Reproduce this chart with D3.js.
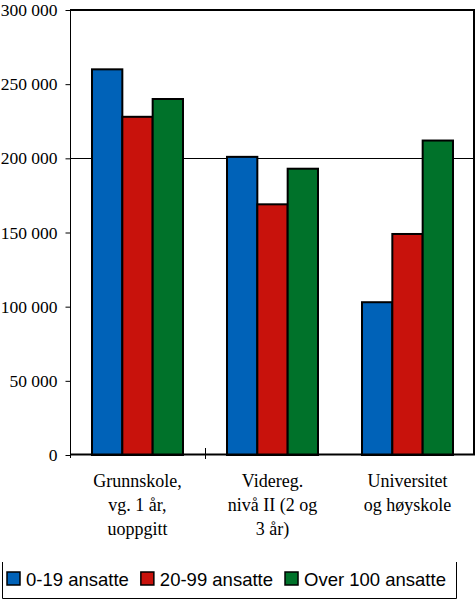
<!DOCTYPE html>
<html>
<head>
<meta charset="utf-8">
<script src="https://cdn.jsdelivr.net/npm/d3@7"></script>
<style>
  html, body { margin: 0; padding: 0; background: #fff; }
  svg { display: block; }
</style>
</head>
<body>
<script>
const categories = [
  ["Grunnskole,", "vg. 1 år,", "uoppgitt"],
  ["Videreg.", "nivå II (2 og", "3 år)"],
  ["Universitet", "og høyskole"]
];
const seriesNames = ["0-19 ansatte", "20-99 ansatte", "Over 100 ansatte"];
const seriesColors = ["#0062B8", "#C8120C", "#00722A"];
const values019 = [260000, 201000, 103000];
const values2099 = [228000, 169000, 149000];
const valuesOver100 = [240000, 193000, 212000];
const yTicks = [0, 50000, 100000, 150000, 200000, 250000, 300000];
const gridValues = [200000];

(function () {
const seriesValues = [values019, values2099, valuesOver100];
const catKeys = categories.map((c, i) => "c" + i);

const W = 476, H = 600;
const pLeft = 70, pRight = 475, pTop = 10, pBottom = 455;

const svg = d3.select("body").append("svg").attr("width", W).attr("height", H);

const y = d3.scaleLinear().domain([0, 300000]).range([pBottom, pTop]);
const x0 = d3.scaleBand().domain(catKeys).range([pLeft, pRight]).paddingInner(0.326).paddingOuter(0.163);
const x1 = d3.scaleBand().domain(seriesNames).range([0, x0.bandwidth()]).padding(0);

const fmt = v => d3.format(",")(v).replace(/,/g, " ");

// gridline
svg.append("g").selectAll("line").data(gridValues).join("line")
  .attr("x1", pLeft).attr("x2", pRight)
  .attr("y1", d => Math.round(y(d)) + 0.5).attr("y2", d => Math.round(y(d)) + 0.5)
  .attr("stroke", "#000").attr("stroke-width", 1);

// frame top and right
svg.append("line").attr("x1", pLeft).attr("x2", pRight).attr("y1", pTop).attr("y2", pTop)
  .attr("stroke", "#000").attr("stroke-width", 2);
svg.append("line").attr("x1", pRight - 1).attr("x2", pRight - 1).attr("y1", pTop - 1).attr("y2", pBottom)
  .attr("stroke", "#000").attr("stroke-width", 2);

// y axis
const yAxis = d3.axisLeft(y).tickValues(yTicks).tickSize(5).tickPadding(8).tickFormat(fmt);
const gy = svg.append("g").attr("transform", `translate(${pLeft + 0.5},0)`).call(yAxis);
gy.select(".domain").remove();
gy.selectAll(".tick line").attr("stroke", "#000");
gy.selectAll(".tick text")
  .attr("font-family", "'Liberation Serif', 'Times New Roman', serif")
  .attr("font-size", "17.5px").attr("fill", "#000").attr("x", -13);
svg.append("line").attr("x1", pLeft + 0.5).attr("x2", pLeft + 0.5).attr("y1", pTop).attr("y2", pBottom + 3)
  .attr("stroke", "#000").attr("stroke-width", 1);

// bars
const groups = svg.append("g").selectAll("g").data(catKeys).join("g")
  .attr("transform", d => `translate(${x0(d)},0)`);
groups.selectAll("rect")
  .data((d, i) => seriesNames.map((s, j) => ({ s, v: seriesValues[j][i], c: seriesColors[j] })))
  .join("rect")
  .attr("x", d => x1(d.s))
  .attr("width", x1.bandwidth())
  .attr("y", d => y(d.v))
  .attr("height", d => pBottom - y(d.v))
  .attr("fill", d => d.c)
  .attr("stroke", "#000").attr("stroke-width", 2);

// baseline
svg.append("line").attr("x1", pLeft).attr("x2", pRight).attr("y1", pBottom - 0.5).attr("y2", pBottom - 0.5)
  .attr("stroke", "#000").attr("stroke-width", 2);
// category separator tick
const sepX = Math.round(pLeft + x0.step()) + 0.5;
svg.append("line").attr("x1", sepX).attr("x2", sepX).attr("y1", pBottom - 7).attr("y2", pBottom + 4)
  .attr("stroke", "#000").attr("stroke-width", 1);

// category labels
const lab = svg.append("g").selectAll("text").data(categories).join("text")
  .attr("font-family", "'Liberation Serif', 'Times New Roman', serif")
  .attr("font-size", "18px").attr("fill", "#000").attr("text-anchor", "middle");
lab.each(function (lines, i) {
  const cx = x0(catKeys[i]) + x0.bandwidth() / 2;
  d3.select(this).selectAll("tspan").data(lines).join("tspan")
    .attr("x", cx).attr("y", (d, k) => 487 + k * 23.8).text(d => d);
});

// legend box (no top border)
svg.append("path").attr("d", "M2.5,562 V598.5 H456.5 V562")
  .attr("fill", "none").attr("stroke", "#000").attr("stroke-width", 1);

const leg = svg.append("g");
let lx = 7;
seriesNames.forEach((s, j) => {
  leg.append("rect").attr("x", lx).attr("y", 572).attr("width", 13).attr("height", 13)
    .attr("fill", seriesColors[j]).attr("stroke", "#000").attr("stroke-width", 1.5);
  const t = leg.append("text").attr("x", lx + 19).attr("y", 586)
    .attr("font-family", "'Liberation Sans', Arial, sans-serif")
    .attr("font-size", "18.5px").attr("fill", "#000").text(s);
  lx = lx + 19 + t.node().getComputedTextLength() + 12;
});
})();
</script>
</body>
</html>
